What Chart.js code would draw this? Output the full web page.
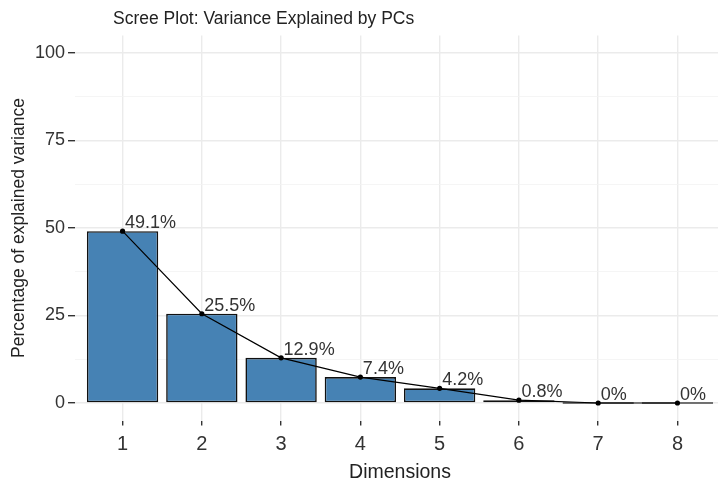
<!DOCTYPE html>
<html>
<head>
<meta charset="utf-8">
<script src="https://cdn.jsdelivr.net/npm/chart.js@4"></script>
<style>
  html, body { margin: 0; padding: 0; overflow: hidden; background: #fff; }
  #wrap { width: 729px; height: 485px; }
</style>
</head>
<body>
<div id="wrap"><canvas id="myChart" width="729" height="485"></canvas></div>
<script>
// data
const dims = ['1', '2', '3', '4', '5', '6', '7', '8'];
const variance = [49.1, 25.5, 12.9, 7.4, 4.2, 0.8, 0, 0];
const yMajor = [0, 25, 50, 75, 100];
const yMinor = [12.5, 37.5, 62.5, 87.5];
const chartTitle = 'Scree Plot: Variance Explained by PCs';

const FONT = "'Liberation Sans', Arial, sans-serif";

const points = dims.map((d, i) => ({x: Number(d), y: variance[i]}));

const titlePlugin = {
    id: 'leftTitle',
    afterDraw(chart) {
        const c = chart.ctx;
        c.save();
        c.font = '17.5px ' + FONT;
        c.fillStyle = '#222';
        c.textBaseline = 'middle';
        c.textAlign = 'left';
        c.fillText(chartTitle, 113, 19);
        c.restore();
    }
};

const labelPlugin = {
    id: 'pctLabels',
    afterDatasetsDraw(chart) {
        const meta = chart.getDatasetMeta(0);
        const c = chart.ctx;
        c.save();
        c.font = '18px ' + FONT;
        c.fillStyle = '#333';
        c.textBaseline = 'alphabetic';
        c.textAlign = 'left';
        meta.data.forEach((pt, i) => {
            c.fillText(variance[i] + '%', pt.x + 2.5, pt.y - 3);
        });
        c.restore();
    }
};

const ctx = document.getElementById('myChart');
const chart = new Chart(ctx, {
    type: 'bar',
    data: {
        datasets: [{
            type: 'line',
            data: points,
            borderColor: '#000',
            borderWidth: 1.2,
            pointRadius: 2.6,
            pointBackgroundColor: '#000',
            pointBorderWidth: 0,
            tension: 0,
            order: 0
        }, {
            type: 'bar',
            data: points,
            backgroundColor: '#4682B4',
            borderColor: '#111',
            borderWidth: 1.6,
            borderSkipped: false,
            minBarLength: 1.6,
            categoryPercentage: 0.9,
            barPercentage: 1.0,
            order: 1
        }]
    },
    options: {
        responsive: false,
        devicePixelRatio: 1,
        animation: false,
        layout: { padding: { top: 35.5, left: 0, right: 0, bottom: 0 } },
        plugins: {
            legend: { display: false },
            tooltip: { enabled: false }
        },
        scales: {
            x: {
                type: 'linear',
                min: 0.4,
                max: 8.6,
                offset: false,
                border: { display: false },
                grid: {
                    offset: false,
                    color: '#ebebeb',
                    lineWidth: 1.4,
                    tickColor: '#333',
                    tickLength: 5
                },
                afterBuildTicks: (scale) => {
                    scale.ticks = dims.map(d => ({value: Number(d)}));
                },
                afterFit: (scale) => { scale.height = 64.5; },
                ticks: {
                    autoSkip: false,
                    maxRotation: 0,
                    padding: 7,
                    color: '#333',
                    font: { family: FONT, size: 20 },
                    callback: (v, i) => dims[i]
                },
                title: {
                    display: true,
                    text: 'Dimensions',
                    color: '#222',
                    font: { family: FONT, size: 19.5 },
                    padding: { top: 0, bottom: 1 }
                }
            },
            y: {
                min: -5,
                max: 105,
                border: { display: false },
                grid: {
                    color: (c) => (c.tick && c.tick.value % 25 !== 0) ? '#f3f3f3' : '#ebebeb',
                    lineWidth: (c) => (c.tick && c.tick.value % 25 !== 0) ? 0.8 : 1.4,
                    tickColor: (c) => (c.tick && c.tick.value % 25 !== 0) ? 'rgba(0,0,0,0)' : '#333',
                    tickLength: 7
                },
                afterBuildTicks: (scale) => {
                    scale.ticks = yMajor.concat(yMinor).sort((a, b) => a - b).map(v => ({value: v}));
                },
                afterFit: (scale) => { scale.width = 75; },
                ticks: {
                    autoSkip: false,
                    padding: 3,
                    color: '#333',
                    font: { family: FONT, size: 18 },
                    callback: (v) => yMajor.includes(v) ? String(v) : ''
                },
                title: {
                    display: true,
                    text: 'Percentage of explained variance',
                    color: '#222',
                    font: { family: FONT, size: 17.5 },
                    padding: { top: 9, bottom: 0 }
                }
            }
        }
    },
    plugins: [titlePlugin, labelPlugin]
});
</script>
</body>
</html>
